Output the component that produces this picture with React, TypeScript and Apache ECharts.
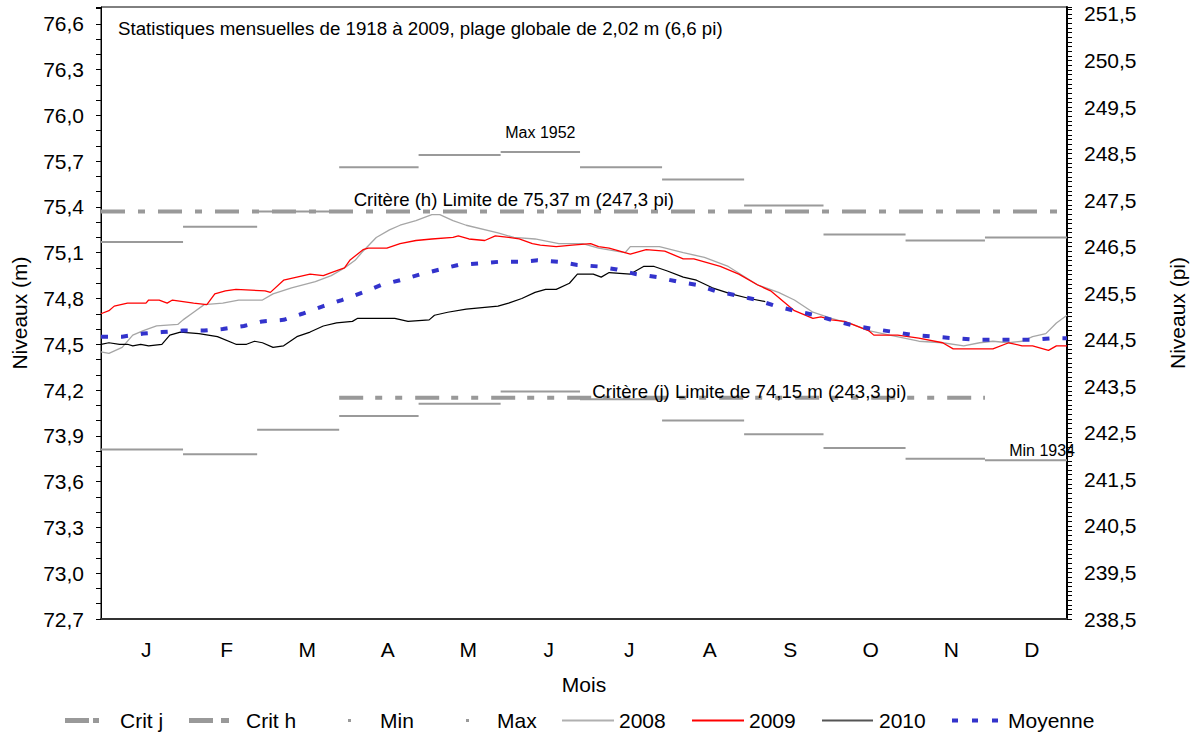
import React, { useEffect, useRef } from 'react';
import * as echarts from 'echarts';

const FONT = 'Liberation Sans, Arial, Helvetica, sans-serif';

const MONTHS = ['J', 'F', 'M', 'A', 'M', 'J', 'J', 'A', 'S', 'O', 'N', 'D'];
const MONTH_START = [0, 31, 59, 90, 120, 151, 181, 212, 243, 273, 304, 334, 365];

const MAX_LEVELS = [75.17, 75.27, 75.37, 75.66, 75.74, 75.76, 75.66, 75.58, 75.41, 75.22, 75.18, 75.2];
const MIN_LEVELS = [73.81, 73.78, 73.94, 74.03, 74.11, 74.19, 74.14, 74.0, 73.91, 73.82, 73.75, 73.74];

const CRIT_H = 75.37;
const CRIT_J = 74.15;
const CRIT_H_DAYS = [0, 365];
const CRIT_J_DAYS = [90, 334];

const DAYS_2008 = [0, 3, 8, 12, 16, 21, 29, 31, 35, 39, 46, 52, 61, 65, 72, 81, 87, 92, 96, 99, 104, 109, 113, 119, 125, 128, 133, 138, 150, 156, 164, 173, 182, 188, 198, 200, 205, 211, 220, 228, 237, 248, 256, 262, 269, 276, 284, 290, 298, 309, 318, 326, 332, 337, 343, 348, 352, 357, 361, 365];
const LEVELS_2008 = [74.45, 74.44, 74.48, 74.56, 74.59, 74.62, 74.63, 74.66, 74.71, 74.76, 74.77, 74.79, 74.79, 74.83, 74.87, 74.91, 74.95, 75.0, 75.05, 75.11, 75.2, 75.25, 75.28, 75.31, 75.35, 75.35, 75.31, 75.28, 75.23, 75.2, 75.19, 75.16, 75.16, 75.13, 75.1, 75.14, 75.14, 75.14, 75.1, 75.07, 75.01, 74.89, 74.84, 74.79, 74.71, 74.67, 74.63, 74.59, 74.56, 74.52, 74.51, 74.49, 74.51, 74.52, 74.51, 74.52, 74.55, 74.57, 74.64, 74.69];

const DAYS_2009 = [0, 3, 5, 10, 17, 18, 22, 25, 27, 35, 40, 43, 47, 51, 62, 64, 69, 74, 79, 84, 87, 92, 94, 99, 101, 108, 113, 119, 125, 133, 135, 139, 145, 149, 154, 158, 163, 166, 172, 178, 185, 188, 192, 200, 206, 213, 220, 224, 234, 241, 248, 253, 262, 269, 272, 276, 281, 290, 292, 301, 309, 318, 322, 332, 337, 343, 348, 352, 358, 361, 365];
const LEVELS_2009 = [74.7, 74.72, 74.75, 74.77, 74.77, 74.79, 74.79, 74.77, 74.79, 74.77, 74.76, 74.83, 74.85, 74.86, 74.85, 74.84, 74.92, 74.94, 74.96, 74.95, 74.97, 75.0, 75.05, 75.12, 75.13, 75.13, 75.16, 75.18, 75.19, 75.2, 75.21, 75.19, 75.18, 75.21, 75.2, 75.19, 75.16, 75.15, 75.14, 75.15, 75.16, 75.14, 75.13, 75.09, 75.12, 75.11, 75.06, 75.06, 75.01, 74.96, 74.89, 74.85, 74.72, 74.67, 74.68, 74.66, 74.65, 74.59, 74.56, 74.56, 74.54, 74.51, 74.47, 74.47, 74.47, 74.51, 74.49, 74.49, 74.46, 74.49, 74.49];

const DAYS_2010 = [0, 3, 7, 10, 12, 15, 18, 23, 26, 30, 37, 44, 51, 55, 58, 61, 65, 69, 74, 79, 84, 89, 95, 97, 111, 116, 124, 126, 131, 138, 150, 154, 159, 164, 168, 172, 177, 180, 186, 189, 192, 200, 205, 209, 214, 220, 225, 231, 238, 245, 251];
const LEVELS_2010 = [74.5, 74.51, 74.5, 74.5, 74.49, 74.5, 74.49, 74.5, 74.56, 74.58, 74.57, 74.55, 74.5, 74.5, 74.52, 74.51, 74.48, 74.49, 74.55, 74.58, 74.62, 74.64, 74.65, 74.67, 74.67, 74.65, 74.66, 74.69, 74.71, 74.73, 74.75, 74.77, 74.8, 74.84, 74.86, 74.86, 74.9, 74.96, 74.96, 74.94, 74.97, 74.96, 75.01, 75.01, 74.98, 74.94, 74.92, 74.87, 74.83, 74.8, 74.78];

const DAYS_MEAN = [0, 8, 16, 23, 31, 39, 46, 54, 61, 69, 76, 84, 91, 99, 106, 113, 121, 128, 135, 143, 150, 158, 165, 173, 180, 188, 195, 202, 210, 218, 225, 232, 240, 248, 255, 262, 270, 278, 285, 292, 300, 307, 315, 322, 330, 338, 345, 352, 360, 365];
const LEVELS_MEAN = [74.55, 74.55, 74.57, 74.58, 74.59, 74.59, 74.6, 74.62, 74.65, 74.66, 74.7, 74.75, 74.79, 74.84, 74.89, 74.92, 74.96, 74.99, 75.02, 75.03, 75.04, 75.04, 75.05, 75.04, 75.02, 75.01, 74.99, 74.96, 74.94, 74.91, 74.89, 74.85, 74.82, 74.79, 74.75, 74.72, 74.69, 74.65, 74.62, 74.6, 74.58, 74.56, 74.55, 74.54, 74.53, 74.53, 74.53, 74.53, 74.54, 74.54];

const TITLE = 'Statistiques mensuelles de 1918 à 2009, plage globale de 2,02 m (6,6 pi)';
const CRIT_H_LABEL = 'Critère (h) Limite de 75,37 m (247,3 pi)';
const CRIT_J_LABEL = 'Critère (j) Limite de 74,15 m (243,3 pi)';
const MAX_LABEL = 'Max 1952';
const MIN_LABEL = 'Min 1934';

const Y_MIN_M = 72.7;
const Y_MAX_M = 76.71;
const Y_MIN_FT = 238.5;
const Y_MAX_FT = 251.65;

const pairs = (xs: number[], ys: number[]) => xs.map((x, i) => [x, ys[i]]);
const steps = (vals: number[]) => {
  const out: (number | null)[][] = [];
  vals.forEach((v, i) => {
    out.push([MONTH_START[i], v], [MONTH_START[i + 1], v], [MONTH_START[i + 1], null]);
  });
  return out;
};
const comma = (v: number, d: number) => v.toFixed(d).replace('.', ',');

const hiddenPoint = {
  symbol: 'rect',
  symbolSize: 1,
  itemStyle: { color: 'rgba(0,0,0,0)' },
};

function buildOption() {
  const base = {
    type: 'line',
    symbol: 'none',
    showSymbol: false,
    xAxisIndex: 0,
    yAxisIndex: 0,
    silent: true,
    animation: false,
  };
  const gray = '#999999';
  const series: any[] = [
    {
      ...base,
      name: 'Crit j',
      data: CRIT_J_DAYS.map((d) => [d, CRIT_J]),
      lineStyle: { color: gray, width: 4, type: [24, 12, 7, 13, 7, 13] },
      itemStyle: { color: gray },
      markPoint: {
        ...hiddenPoint,
        label: { show: true, position: 'inside', offset: [0, -6], formatter: CRIT_J_LABEL, color: '#000', fontSize: 18.6, fontFamily: FONT },
        data: [{ coord: [245, CRIT_J] }],
      },
    },
    {
      ...base,
      name: 'Crit h',
      data: CRIT_H_DAYS.map((d) => [d, CRIT_H]),
      lineStyle: { color: gray, width: 4, type: [24, 13, 7, 13] },
      itemStyle: { color: gray },
      markPoint: {
        ...hiddenPoint,
        label: { show: true, position: 'inside', offset: [0, -12], formatter: CRIT_H_LABEL, color: '#000', fontSize: 18.6, fontFamily: FONT },
        data: [{ coord: [156, CRIT_H] }],
      },
    },
    {
      ...base,
      name: 'Min',
      data: steps(MIN_LEVELS),
      lineStyle: { color: '#9a9a9a', width: 2 },
      itemStyle: { color: '#9a9a9a' },
      markPoint: {
        ...hiddenPoint,
        label: { show: true, position: 'inside', align: 'right', offset: [8, -10], formatter: MIN_LABEL, color: '#000', fontSize: 16, fontFamily: FONT },
        data: [{ coord: [365, MIN_LEVELS[11]] }],
      },
    },
    {
      ...base,
      name: 'Max',
      data: steps(MAX_LEVELS),
      lineStyle: { color: '#9a9a9a', width: 2 },
      itemStyle: { color: '#9a9a9a' },
      markPoint: {
        ...hiddenPoint,
        label: { show: true, position: 'inside', offset: [0, -19], formatter: MAX_LABEL, color: '#000', fontSize: 16, fontFamily: FONT },
        data: [{ coord: [166, MAX_LEVELS[5]] }],
      },
    },
    { ...base, name: '2008', data: pairs(DAYS_2008, LEVELS_2008), lineStyle: { color: '#a6a6a6', width: 1.3 }, itemStyle: { color: '#b0b0b0' } },
    { ...base, name: '2009', data: pairs(DAYS_2009, LEVELS_2009), lineStyle: { color: '#ff0000', width: 1.3 }, itemStyle: { color: '#ff0000' } },
    { ...base, name: '2010', data: pairs(DAYS_2010, LEVELS_2010), lineStyle: { color: '#000000', width: 1.2 }, itemStyle: { color: '#555555' } },
    { ...base, name: 'Moyenne', data: pairs(DAYS_MEAN, LEVELS_MEAN), lineStyle: { color: '#3333cc', width: 4, type: [7, 13] }, itemStyle: { color: '#3333cc' } },
  ];

  const legendSpecs = [
    { name: 'Crit j', left: 65, w: 34, h: 5, pad: 16, icon: 'path://M0,0h24v5h-24zM28,0h6v5h-6z' },
    { name: 'Crit h', left: 189, w: 40, h: 5, pad: 12, icon: 'path://M0,0h24v5h-24zM32,0h8v5h-8z' },
    { name: 'Min', left: 348, w: 3, h: 3, pad: 24, icon: 'rect' },
    { name: 'Max', left: 466, w: 3, h: 3, pad: 23, icon: 'rect' },
    { name: '2008', left: 562, w: 52, h: 2, pad: 0, icon: 'rect' },
    { name: '2009', left: 692, w: 52, h: 2, pad: 0, icon: 'rect' },
    { name: '2010', left: 822, w: 51, h: 2, pad: 1, icon: 'rect' },
    { name: 'Moyenne', left: 952, w: 46, h: 4, pad: 5, icon: 'path://M0,0h6v4h-6zM20,0h6v4h-6zM40,0h6v4h-6z' },
  ];

  return {
    animation: false,
    textStyle: { fontFamily: FONT },
    title: {
      text: TITLE,
      left: 113,
      top: 14,
      textStyle: { fontSize: 18.7, fontWeight: 'normal', color: '#000', fontFamily: FONT },
    },
    legend: legendSpecs.map((s) => ({
      data: [{ name: s.name, icon: s.icon }],
      left: s.left,
      top: 710,
      itemWidth: s.w,
      itemHeight: s.h,
      itemGap: 0,
      padding: 0,
      selectedMode: false,
      textStyle: { fontSize: 21, color: '#000', fontFamily: FONT, padding: [0, 0, 0, s.pad] },
    })),
    grid: {
      left: 101,
      right: 125,
      top: 7,
      bottom: 119,
      show: true,
      borderColor: '#000',
      borderWidth: 1,
      backgroundColor: 'transparent',
    },
    xAxis: [
      {
        type: 'value',
        min: 0,
        max: 365,
        position: 'bottom',
        axisLine: { show: true, lineStyle: { color: '#333', width: 2 } },
        axisTick: { show: false },
        axisLabel: { show: false },
        splitLine: { show: false },
      },
      {
        type: 'category',
        position: 'bottom',
        data: MONTHS.map((m, i) => m + i),
        boundaryGap: true,
        axisLine: { show: false },
        axisTick: { show: false },
        splitLine: { show: false },
        axisLabel: {
          margin: 20,
          fontSize: 21,
          color: '#000',
          fontFamily: FONT,
          padding: [0, 0, 0, 10],
          formatter: (_: string, i: number) => MONTHS[i],
        },
        name: 'Mois',
        nameLocation: 'middle',
        nameGap: 55,
        nameTextStyle: { fontSize: 21, color: '#000', fontFamily: FONT },
      },
    ],
    yAxis: [
      {
        type: 'value',
        position: 'left',
        min: Y_MIN_M,
        max: Y_MAX_M,
        interval: 0.1,
        axisLine: { show: true, lineStyle: { color: '#000', width: 1 } },
        axisTick: { show: true, length: 5, lineStyle: { color: '#000' } },
        splitLine: { show: false },
        axisLabel: {
          margin: 17,
          fontSize: 21,
          color: '#000',
          fontFamily: FONT,
          formatter: (v: number) => {
            const k = Math.round((v - Y_MIN_M) * 10);
            return k % 3 === 0 ? comma(v, 1) : '';
          },
        },
        name: 'Niveaux (m)',
        nameLocation: 'middle',
        nameRotate: 90,
        nameGap: 71,
        nameTextStyle: { fontSize: 21, color: '#000', fontFamily: FONT },
      },
      {
        type: 'value',
        position: 'right',
        min: Y_MIN_FT,
        max: Y_MAX_FT,
        interval: 0.1,
        axisLine: { show: true, lineStyle: { color: '#000', width: 2 } },
        axisTick: { show: true, length: 5, lineStyle: { color: '#000' } },
        splitLine: { show: false },
        axisLabel: {
          margin: 17,
          fontSize: 21,
          color: '#000',
          fontFamily: FONT,
          formatter: (v: number) => {
            const k = Math.round((v - Y_MIN_FT) * 10);
            return k % 10 === 0 ? comma(v, 1) : '';
          },
        },
        name: 'Niveaux (pi)',
        nameLocation: 'middle',
        nameRotate: 90,
        nameGap: 100,
        nameTextStyle: { fontSize: 21, color: '#000', fontFamily: FONT },
      },
    ],
    series,
  };
}

export default function App() {
  const ref = useRef<HTMLDivElement>(null);
  useEffect(() => {
    document.body.style.margin = '0';
    if (!ref.current) return;
    const chart = echarts.init(ref.current, undefined, { renderer: 'svg' });
    chart.setOption(buildOption() as any);
    return () => chart.dispose();
  }, []);
  return <div ref={ref} style={{ width: 1196, height: 738 }} />;
}
